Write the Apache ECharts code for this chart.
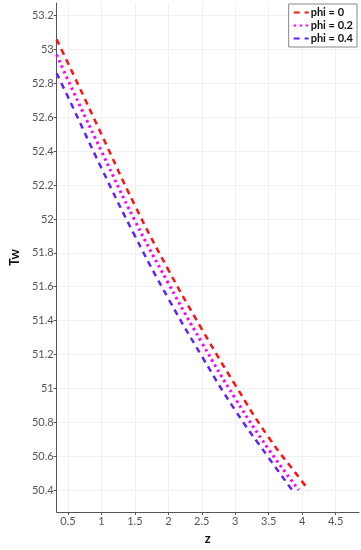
<!DOCTYPE html>
<html><head><meta charset="utf-8">
<script src="https://cdn.jsdelivr.net/npm/echarts@6/dist/echarts.min.js"></script>
<style>html,body{margin:0;padding:0;background:#fff}#c{width:361px;height:550px}</style>
</head><body><div id="c"></div>
<script>
var zRed = [0.33, 0.5, 1.0, 1.5, 2.0, 2.5, 3.0, 3.5, 4.0, 4.09];
var twRed = [53.06, 52.92, 52.50, 52.08, 51.70, 51.35, 51.02, 50.71, 50.45, 50.40];
var zMag = [0.33, 0.5, 1.0, 1.5, 2.0, 2.5, 3.0, 3.5, 3.95];
var twMag = [52.97, 52.82, 52.40, 51.99, 51.62, 51.27, 50.94, 50.64, 50.40];
var zBlue = [0.33, 0.5, 1.0, 1.5, 2.0, 2.5, 3.0, 3.5, 3.85];
var twBlue = [52.86, 52.72, 52.30, 51.90, 51.53, 51.19, 50.87, 50.59, 50.40];
var xTicks = [0.5, 1, 1.5, 2, 2.5, 3, 3.5, 4, 4.5];
var yTicks = [50.4, 50.6, 50.8, 51, 51.2, 51.4, 51.6, 51.8, 52, 52.2, 52.4, 52.6, 52.8, 53, 53.2];
var names = ['phi = 0', 'phi = 0.2', 'phi = 0.4'];

function pairs(xs, ys) { return xs.map(function (x, i) { return [x, ys[i]]; }); }
var font = 'Lato, "DejaVu Sans", sans-serif';
var chart = echarts.init(document.getElementById('c'), null, {renderer: 'canvas'});
chart.setOption({
  animation: false,
  backgroundColor: '#fff',
  grid: {left: 38, right: 2, top: 3, bottom: 29, containLabel: false},
  legend: {
    right: 4, top: 4, orient: 'vertical',
    backgroundColor: '#fff', borderColor: '#888', borderWidth: 1,
    padding: [3, 4, 3, 4], itemGap: 2, itemWidth: 15, itemHeight: 10,
    itemStyle: {opacity: 0},
    textStyle: {fontFamily: font, fontSize: 11, fontWeight: 'bold', color: '#111', padding: [0, 0, 0, -3]},
    data: names
  },
  xAxis: {
    type: 'value', min: 0.33, max: 4.85,
    name: 'z', nameLocation: 'middle', nameGap: 20,
    nameTextStyle: {fontFamily: font, fontSize: 13, fontWeight: 'bold', color: '#111'},
    axisLine: {show: true, onZero: false, lineStyle: {color: '#555', width: 1}},
    axisTick: {show: true, length: 3, customValues: xTicks, lineStyle: {color: '#555'}},
    axisLabel: {customValues: xTicks, fontFamily: font, fontSize: 11, color: '#555', margin: 4},
    splitLine: {show: true, lineStyle: {color: '#f0f0f0', width: 1}}
  },
  yAxis: {
    type: 'value', min: 50.27, max: 53.275,
    name: 'Tw', nameLocation: 'middle', nameGap: 28, nameRotate: 90,
    nameTextStyle: {fontFamily: font, fontSize: 13, fontWeight: 'bold', color: '#111'},
    axisLine: {show: true, onZero: false, lineStyle: {color: '#555', width: 1}},
    axisTick: {show: true, length: 3, customValues: yTicks, lineStyle: {color: '#555'}},
    axisLabel: {customValues: yTicks, fontFamily: font, fontSize: 11, color: '#555', margin: 3,
      formatter: function (v) { return String(Math.round(v * 10) / 10); }},
    splitLine: {show: true, lineStyle: {color: '#f0f0f0', width: 1}}
  },
  series: [
    {name: names[0], type: 'line', smooth: true, symbol: 'none', data: pairs(zRed, twRed),
      itemStyle: {color: '#ff1111'}, lineStyle: {color: '#ff1111', width: 2.5, type: [6, 5]}},
    {name: names[1], type: 'line', smooth: true, symbol: 'none', data: pairs(zMag, twMag),
      itemStyle: {color: '#ff00ff'}, lineStyle: {color: '#ff00ff', width: 3, type: [2.5, 3.5]}},
    {name: names[2], type: 'line', smooth: true, symbol: 'none', data: pairs(zBlue, twBlue),
      itemStyle: {color: '#6020ff'}, lineStyle: {color: '#6020ff', width: 2.5, type: [6, 5]}}
  ]
});
</script></body></html>
